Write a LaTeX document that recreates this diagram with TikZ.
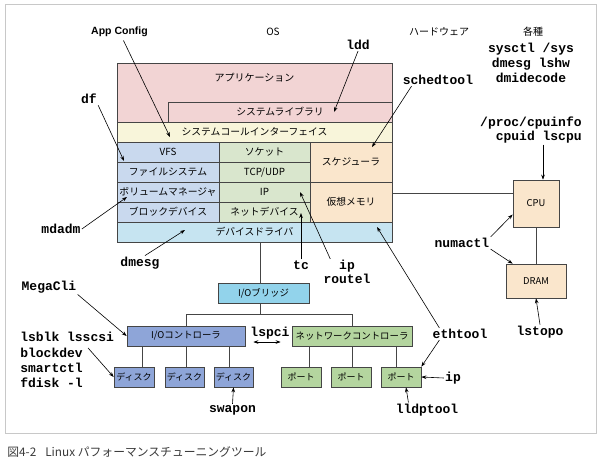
\documentclass[tikz,border=0pt]{standalone}
\usepackage{fontspec}
\setmainfont{Noto Sans CJK JP}
\setmonofont{Liberation Mono}
\newfontfamily\appfont{Liberation Sans}
\usetikzlibrary{arrows.meta}

\definecolor{linec}{HTML}{454545}
\definecolor{framec}{HTML}{C8C8C8}
\definecolor{capc}{HTML}{3A3A3A}
\definecolor{appc}{HTML}{F2D4D4}
\definecolor{scic}{HTML}{F8F5DA}
\definecolor{fsc}{HTML}{C9D9EE}
\definecolor{netc}{HTML}{D9E6CD}
\definecolor{memc}{HTML}{FAE6CC}
\definecolor{drvc}{HTML}{C6E4F1}
\definecolor{brc}{HTML}{92D3EB}
\definecolor{ioc}{HTML}{8EA5D8}
\definecolor{nicc}{HTML}{B4D59F}

\tikzset{every picture/.style={line width=0.7pt}}

\begin{document}
\begin{tikzpicture}[x=1pt, y=-1pt,
    blk/.style={draw=linec, rectangle, inner sep=0pt,
                font=\fontsize{9.8}{11}\selectfont},
    hw/.style={blk, font=\fontsize{9.4}{11}\selectfont},
    hdr/.style={font=\fontsize{10}{12}\selectfont},
    tool/.style={inner sep=1pt, font=\fontsize{13}{15}\selectfont\ttfamily\bfseries},
    arr/.style={>={Stealth[length=5pt,width=3.6pt]}, ->, line width=0.6pt}]

  \useasboundingbox (0,0) rectangle (600,459);
  \draw[framec, line width=1pt] (5,4) rectangle (596,433);

  % OS stack
  \node[blk, fill=appc, minimum width=275, minimum height=59] (app) at (254.5,92.5) {};
  \node[hdr] (apptxt) at (254.5,78) {アプリケーション};
  \node[blk, fill=appc, minimum width=224, minimum height=20] (slib) at (280,112) {システムライブラリ};
  \node[blk, fill=scic, minimum width=275, minimum height=20] (sci) at (254.5,132) {システムコールインターフェイス};
  \foreach \n/\y/\t in {vfs/152/VFS, fsys/172/ファイルシステム,
                        volm/192/ボリュームマネージャ, bdev/212/ブロックデバイス}
    \node[blk, fill=fsc, minimum width=102, minimum height=20] (\n) at (168,\y) {\t};
  \node[blk, fill=netc, minimum width=91, minimum height=20] (sock) at (264.5,152) {ソケット};
  \node[blk, fill=netc, minimum width=91, minimum height=20] (tcp) at (264.5,172) {TCP/UDP};
  \node[blk, fill=netc, minimum width=91, minimum height=20] (ipl) at (264.5,192) {IP};
  \node[blk, fill=netc, minimum width=91, minimum height=20] (ndev) at (264.5,212) {ネットデバイス};
  \node[blk, fill=memc, minimum width=82, minimum height=40] (sched) at (351,162) {スケジューラ};
  \node[blk, fill=memc, minimum width=82, minimum height=40] (vmem) at (351,202) {仮想メモリ};
  \node[blk, fill=drvc, minimum width=275, minimum height=20] (drv) at (254.5,232) {デバイスドライバ};

  % hardware
  \node[hw, fill=brc, minimum width=91, minimum height=20] (bridge) at (263.5,293) {I/Oブリッジ};
  \node[hw, fill=ioc, minimum width=118, minimum height=20] (ioctl) at (186,336) {I/Oコントローラ};
  \node[hw, fill=nicc, minimum width=120, minimum height=20] (nic) at (352,336) {ネットワークコントローラ};
  \foreach \n/\x/\w in {disk1/134/40, disk2/184.5/39, disk3/233.5/39}
    \node[hw, fill=ioc, minimum width=\w, minimum height=20,
          font=\fontsize{9}{11}\selectfont] (\n) at (\x,377) {ディスク};
  \foreach \n/\x in {port1/301, port2/351, port3/401}
    \node[hw, fill=nicc, minimum width=40, minimum height=20,
          font=\fontsize{9}{11}\selectfont] (\n) at (\x,377) {ポート};
  \node[hw, fill=memc, minimum width=46, minimum height=47] (cpu) at (536,203.5) {CPU};
  \node[hw, fill=memc, minimum width=60, minimum height=34] (dram) at (536,281) {DRAM};

  % buses
  \draw[linec] (drv.south -| 260,0) -- (bridge.north -| 260,0);
  \draw[linec] (bridge.south -| 260,0) -- (260,315);
  \draw[linec] (ioctl.north) -- ++(0,-11) -| (nic.north);
  \foreach \n/\x in {disk1/142, disk2/186, disk3/229}
    \draw[linec] (ioctl.south -| \x,0) -- (\n.north -| \x,0);
  \foreach \n/\x in {port1/309, port2/352, port3/396}
    \draw[linec] (nic.south -| \x,0) -- (\n.north -| \x,0);
  \draw[linec] (vmem.east |- 0,193) -- (cpu.west |- 0,193);
  \draw[linec] (cpu.south) -- (dram.north);

  % headings
  \node[font={\appfont\fontsize{10.5}{12}\selectfont\bfseries}] (appcfg) at (119.5,32) {App Config};
  \node[hdr] (os) at (273,32) {OS};
  \node[hdr] (hwlbl) at (439,32) {ハードウェア};
  \node[hdr] (misc) at (533,32) {各種};
  \node[tool, align=center] (sysinfo) at (531,63) {sysctl /sys\\dmesg lshw\\dmidecode};

  % tools
  \node[tool] (ldd) at (358,45) {ldd};
  \node[tool] (schedtool) at (438,80) {schedtool};
  \node[tool, align=right, anchor=east, font=\fontsize{13}{14}\selectfont\ttfamily\bfseries]
    (cpuinfo) at (583,130) {/proc/cpuinfo\\cpuid lscpu};
  \node[tool] (df) at (89,99) {df};
  \node[tool] (mdadm) at (61,229) {mdadm};
  \node[tool] (dmesg) at (140,263) {dmesg};
  \node[tool] (tc) at (301,265) {tc};
  \node[tool, align=center, font=\fontsize{13}{14}\selectfont\ttfamily\bfseries]
    (iprt) at (347,272) {ip\\routel};
  \node[tool] (numactl) at (462,243) {numactl};
  \node[tool] (lstopo) at (540,332) {lstopo};
  \node[tool] (ethtool) at (460,334) {ethtool};
  \node[tool] (megacli) at (49,287) {MegaCli};
  \node[tool] (lspci) at (270,333) {lspci};
  \node[tool, align=left, anchor=west, font=\fontsize{13}{15.3}\selectfont\ttfamily\bfseries]
    (lsblk) at (19,360) {lsblk lsscsi\\blockdev\\smartctl\\fdisk -l};
  \node[tool] (ipp) at (453,378) {ip};
  \node[tool] (swapon) at (232.5,410) {swapon};
  \node[tool] (lldptool) at (427,410) {lldptool};

  % arrow tips inside the stack
  \coordinate (tAppCfg) at (170,137);
  \coordinate (tDf) at (124,161);
  \coordinate (tMdadm) at (127,197);
  \coordinate (tDmesg) at (185,230);
  \coordinate (tLdd) at (334,112);
  \coordinate (tSched) at (372,147);
  \coordinate (tTc) at (301,213);
  \coordinate (tIp) at (300,192);
  \coordinate (tEthDrv) at (377,227);

  % arrows
  \draw[arr] ([xshift=4pt]appcfg.south) -- (tAppCfg);
  \draw[arr] (df.south east) -- (tDf);
  \draw[arr] (mdadm.east) -- (tMdadm);
  \draw[arr] ([xshift=5pt]dmesg.north) -- (tDmesg);
  \draw[arr] (ldd.south) -- (tLdd);
  \draw[arr] ([xshift=10pt]schedtool.south west) -- (tSched);
  \draw[arr] (tc.north) -- (tTc);
  \draw[arr] ([xshift=8pt]iprt.north west) -- (tIp);
  \draw[arr] ([xshift=8pt]ethtool.north west) -- (tEthDrv);
  \draw[arr] ([xshift=8pt]ethtool.south west) -- (port3.north east);
  \draw[arr] (ipp.west) -- (port3.east);
  \draw[arr] ([xshift=14pt]lldptool.north west) -- ([xshift=5pt]port3.south);
  \draw[arr] (swapon.north) -- (disk3.south);
  \draw[arr] ([shift={(69,17)}]lsblk.north west) -- (disk1.west);
  \draw[arr] (megacli.south east) -- (ioctl.west);
  \draw[arr, <->] ([shift={(8,6)}]ioctl.east) -- ([shift={(-11,6)}]nic.west);
  \draw[arr] (cpuinfo.south -| 543,0) -- (cpu.north -| 543,0);
  \draw[arr] (numactl.north east) -- ([yshift=-11pt]cpu.west);
  \draw[arr] (numactl.south east) -- ([xshift=7pt]dram.north west);
  \draw[arr] (lstopo.north) -- (dram.south);

  % caption
  \node[anchor=west, inner sep=0pt, text=capc, font=\fontsize{11.8}{14}\selectfont]
    (cap) at (7,452) {図4-2\hspace{9pt}Linux パフォーマンスチューニングツール};
\end{tikzpicture}
\end{document}
